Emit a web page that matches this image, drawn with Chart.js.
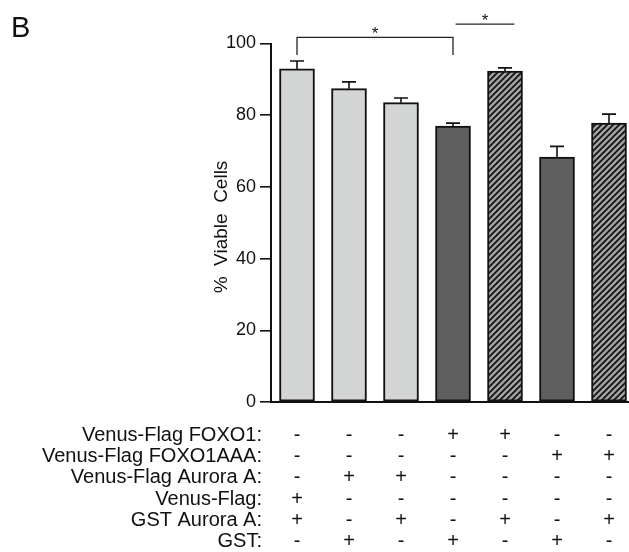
<!DOCTYPE html>
<html lang="en">
<head>
    <meta charset="UTF-8">
    <title>% Viable Cells</title>
    <script src="https://cdn.jsdelivr.net/npm/chart.js"></script>
    <style>
        html, body { margin: 0; padding: 0; background: #fff; overflow: hidden; }
        #wrap { position: relative; width: 640px; height: 552px; }
    </style>
</head>
<body>
    <div id="wrap">
        <canvas id="viableChart" width="640" height="552"></canvas>
    </div>

    <script>
        // data (mean and upper SEM for each condition)
        const categories = ['1', '2', '3', '4', '5', '6', '7'];
        const meanValues = [92.9, 87.4, 83.5, 77.0, 92.3, 68.3, 77.8];
        const semValues = [2.2, 1.9, 1.3, 0.8, 0.9, 3.0, 2.5];
        const fillKinds = ['light', 'light', 'light', 'dark', 'hatch', 'dark', 'hatch'];
        const yTicks = [0, 20, 40, 60, 80, 100];

        // treatment table under the bars
        const rowLabels = [
            'Venus-Flag FOXO1:',
            'Venus-Flag FOXO1AAA:',
            'Venus-Flag Aurora A:',
            'Venus-Flag:',
            'GST Aurora A:',
            'GST:'
        ];
        const rowMarks = [
            ['-', '-', '-', '+', '+', '-', '-'],
            ['-', '-', '-', '-', '-', '+', '+'],
            ['-', '+', '+', '-', '-', '-', '-'],
            ['+', '-', '-', '-', '-', '-', '-'],
            ['+', '-', '+', '-', '+', '-', '+'],
            ['-', '+', '-', '+', '-', '+', '-']
        ];

        // significance marks (category positions, value levels)
        const sigBrackets = [
            { from: 0, to: 3, level: 101.7, leg: 96.8, label: '*' },
            { from: 3.05, to: 4.18, level: 105.4, leg: null, label: '*' }
        ];

        const FONT = "'Liberation Sans', Arial, Helvetica, sans-serif";
        Chart.defaults.font.family = FONT;
        Chart.defaults.color = '#111';

        function makeHatch() {
            const c = document.createElement('canvas');
            c.width = 6; c.height = 6;
            const g = c.getContext('2d');
            g.fillStyle = '#a2a2a2';
            g.fillRect(0, 0, 6, 6);
            g.strokeStyle = '#111';
            g.lineWidth = 1.7;
            g.beginPath();
            g.moveTo(-1, 7); g.lineTo(7, -1);
            g.moveTo(-4, 4); g.lineTo(4, -4);
            g.moveTo(2, 10); g.lineTo(10, 2);
            g.stroke();
            return g.createPattern(c, 'repeat');
        }

        const ctx = document.getElementById('viableChart').getContext('2d');
        const hatch = makeHatch();
        const colorOf = { light: '#d3d5d4', dark: '#5e5e5e', hatch: hatch };

        const extrasPlugin = {
            id: 'extras',
            afterDatasetsDraw(chart) {
                const c = chart.ctx;
                const ys = chart.scales.y;
                const meta = chart.getDatasetMeta(0);
                c.save();
                c.strokeStyle = '#111';
                c.lineWidth = 1.6;
                // error bars (upper only)
                meta.data.forEach((bar, i) => {
                    const yb = ys.getPixelForValue(meanValues[i]);
                    const yt = ys.getPixelForValue(meanValues[i] + semValues[i]);
                    c.beginPath();
                    c.moveTo(bar.x, yb);
                    c.lineTo(bar.x, yt);
                    c.moveTo(bar.x - 7, yt);
                    c.lineTo(bar.x + 7, yt);
                    c.stroke();
                });
                c.restore();
            },
            afterDraw(chart) {
                const c = chart.ctx;
                const xs = chart.scales.x, ys = chart.scales.y;
                const colX = v => xs.getPixelForValue(0) + v * (xs.getPixelForValue(1) - xs.getPixelForValue(0));
                c.save();
                // brackets
                c.strokeStyle = '#222';
                c.lineWidth = 1.3;
                c.fillStyle = '#111';
                c.font = '17px ' + FONT;
                c.textAlign = 'center';
                c.textBaseline = 'alphabetic';
                sigBrackets.forEach(b => {
                    const x1 = colX(b.from), x2 = colX(b.to);
                    const yl = ys.getPixelForValue(b.level);
                    c.beginPath();
                    if (b.leg !== null) {
                        const yg = ys.getPixelForValue(b.leg);
                        c.moveTo(x1, yg); c.lineTo(x1, yl); c.lineTo(x2, yl); c.lineTo(x2, yg);
                    } else {
                        c.moveTo(x1, yl); c.lineTo(x2, yl);
                    }
                    c.stroke();
                    c.fillText(b.label, (x1 + x2) / 2, yl + 1.5);
                });

                // treatment table
                c.font = '20px ' + FONT;
                c.fillStyle = '#111';
                const rowY = [440.7, 462, 483.3, 504.6, 526, 547];
                rowLabels.forEach((lab, r) => {
                    c.textAlign = 'right';
                    c.fillText(lab, 262, rowY[r]);
                    c.textAlign = 'center';
                    rowMarks[r].forEach((m, i) => {
                        c.fillText(m, xs.getPixelForValue(i), rowY[r]);
                    });
                });

                // y axis title
                c.save();
                c.translate(221.5, 227);
                c.rotate(-Math.PI / 2);
                c.textAlign = 'center';
                c.textBaseline = 'middle';
                c.font = '19px ' + FONT;
                c.fillText('%  Viable  Cells', 0, 0);
                c.restore();

                // panel letter
                c.textAlign = 'left';
                c.font = '29px ' + FONT;
                c.fillText('B', 11, 36.5);
                c.restore();
            }
        };

        new Chart(ctx, {
            type: 'bar',
            data: {
                labels: categories,
                datasets: [{
                    label: '% Viable Cells',
                    data: meanValues,
                    backgroundColor: fillKinds.map(k => colorOf[k]),
                    borderColor: '#111',
                    borderWidth: 2,
                    borderSkipped: false,
                    barThickness: 35
                }]
            },
            options: {
                responsive: false,
                animation: false,
                devicePixelRatio: 1,
                layout: { padding: { left: 0, top: 43.5, right: 5, bottom: 150 } },
                plugins: {
                    legend: { display: false },
                    tooltip: { enabled: false }
                },
                scales: {
                    x: {
                        grid: { display: false },
                        border: { display: true, color: '#111', width: 2 },
                        ticks: { display: false },
                        afterFit: s => { s.height = 0; }
                    },
                    y: {
                        min: 0,
                        max: 100,
                        afterBuildTicks: s => { s.ticks = yTicks.map(v => ({ value: v })); },
                        ticks: { font: { size: 18 }, color: '#111', padding: 4 },
                        grid: { drawOnChartArea: false, drawTicks: true, tickLength: 11, color: '#111', lineWidth: 1.6 },
                        border: { display: true, color: '#111', width: 2 },
                        afterFit: s => { s.width = 271; }
                    }
                }
            },
            plugins: [extrasPlugin]
        });
    </script>
</body>
</html>
